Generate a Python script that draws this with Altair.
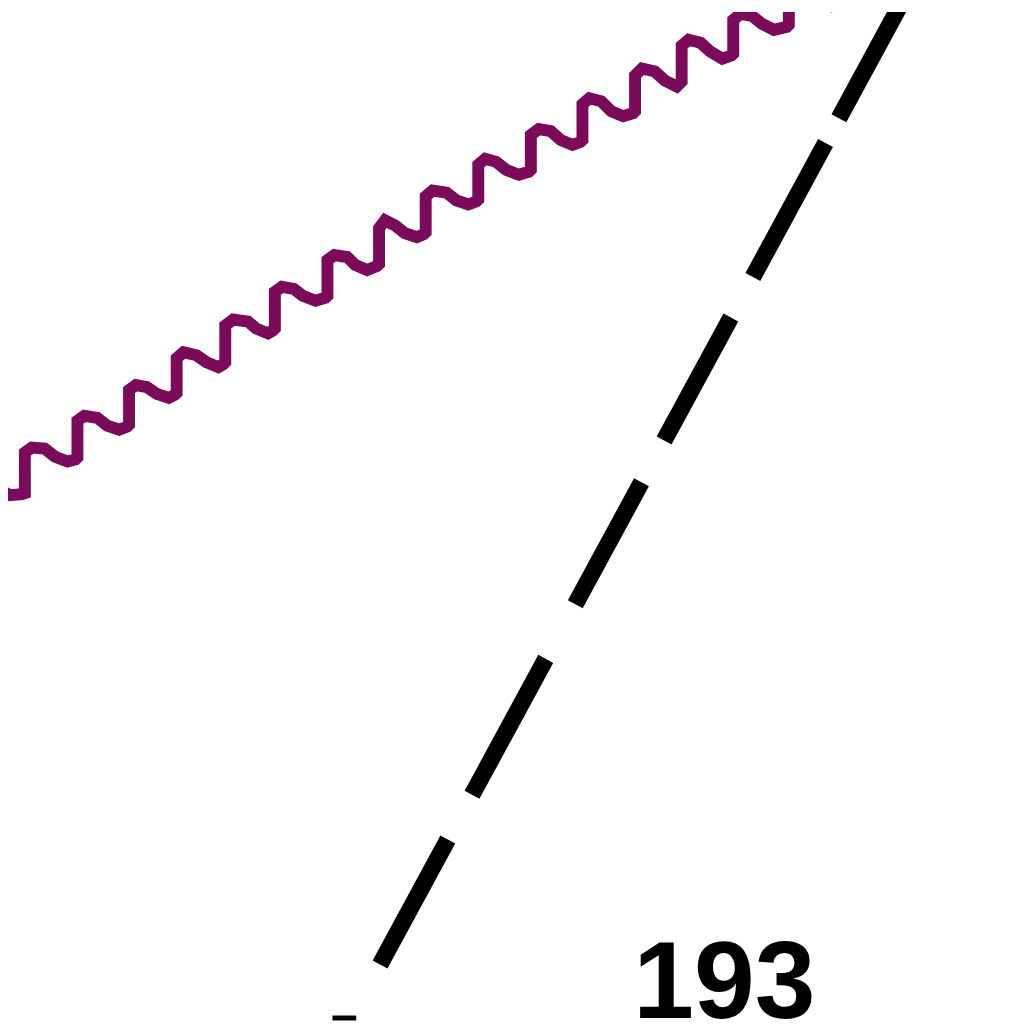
import altair as alt
import pandas as pd

# Wavy purple line (x, y in picture units, y grows downward)
wave_x = [-10, 0, 10, 22,
          25, 25, 32, 45, 55, 68, 76,
          78, 78, 85, 98, 108, 120, 128,
          130, 130, 137, 148, 158, 170, 176,
          178, 178, 185, 198, 208, 220, 225,
          227, 227, 235, 250, 258, 270, 275,
          277, 277, 284, 296, 305, 318, 328,
          330, 330, 337, 350, 358, 370, 380,
          382, 382, 388, 398, 408, 420, 427,
          429, 429, 436, 450, 460, 472, 480,
          482, 482, 489, 500, 510, 523, 533,
          535, 535, 543, 555, 565, 577, 585,
          587, 587, 594, 606, 616, 628, 638,
          640, 640, 647, 660, 670, 682, 685,
          687, 687, 694, 706, 716, 728, 737,
          739, 739, 746, 758, 768, 780, 793,
          795, 795, 802, 815, 825, 838, 846,
          848, 848]
wave_y = [482, 490, 495, 494,
          493, 452, 447, 448, 456, 461, 459,
          457, 420, 415, 417, 425, 429, 426,
          424, 389, 384, 386, 393, 397, 394,
          392, 357, 351, 354, 361, 366, 363,
          361, 324, 318, 320, 327, 332, 329,
          327, 290, 285, 287, 294, 299, 296,
          294, 258, 253, 255, 263, 268, 264,
          262, 226, 218, 223, 231, 235, 232,
          230, 194, 188, 190, 198, 202, 199,
          197, 162, 156, 159, 167, 172, 169,
          167, 132, 126, 128, 137, 142, 139,
          137, 101, 95, 98, 108, 113, 110,
          108, 72, 65, 68, 77, 83, 80,
          78, 42, 36, 39, 48, 55, 52,
          50, 16, 10, 12, 20, 26, 23,
          21, -10, -15, -12, -4, 2, -1,
          -3, -40]

# Black dashes (start and end of each dash)
dash_x1 = [383, 475.7, 579.8, 669.3, 758.8, 845.5]
dash_y1 = [968, 797, 605, 440, 275, 115]
dash_x2 = [451.3, 550, 646.5, 736.6, 832, 918.8]
dash_y2 = [842, 660, 482, 316, 140, -20]

# Small mark at the bottom
tick_x1 = [335]
tick_x2 = [359]
tick_y = [1022]

# Label
label_text = ["193"]
label_x = [730]
label_y = [1022]

wave = pd.DataFrame({"x": wave_x, "y": wave_y, "i": list(range(len(wave_x)))})
dashes = pd.DataFrame({"x": dash_x1, "y": dash_y1, "x2": dash_x2, "y2": dash_y2})
ticks = pd.DataFrame({"x": tick_x1, "x2": tick_x2, "y": tick_y})
labels = pd.DataFrame({"t": label_text, "x": label_x, "y": label_y})

xs = alt.Scale(domain=[8, 1024], nice=False, zero=False)
ys = alt.Scale(domain=[8, 1024], nice=False, zero=False, reverse=True)
noax = None

wave_layer = alt.Chart(wave).mark_line(
    color="#7b0a5a", strokeWidth=12, strokeJoin="miter", strokeCap="butt", clip=True
).encode(
    x=alt.X("x:Q", scale=xs, axis=noax),
    y=alt.Y("y:Q", scale=ys, axis=noax),
    order="i:Q",
)

dash_layer = alt.Chart(dashes).mark_rule(
    color="#000000", strokeWidth=17, strokeCap="butt", clip=True
).encode(
    x=alt.X("x:Q", scale=xs, axis=noax),
    y=alt.Y("y:Q", scale=ys, axis=noax),
    x2="x2:Q",
    y2="y2:Q",
)

tick_layer = alt.Chart(ticks).mark_rule(
    color="#000000", strokeWidth=5, strokeCap="butt"
).encode(
    x=alt.X("x:Q", scale=xs, axis=noax),
    x2="x2:Q",
    y=alt.Y("y:Q", scale=ys, axis=noax),
)

label_layer = alt.Chart(labels).mark_text(
    font="Liberation Sans", fontWeight="bold", fontSize=110,
    align="center", baseline="alphabetic", color="#000000"
).encode(
    x=alt.X("x:Q", scale=xs, axis=noax),
    y=alt.Y("y:Q", scale=ys, axis=noax),
    text="t:N",
)

chart = alt.layer(wave_layer, dash_layer, tick_layer, label_layer).properties(
    width=1016, height=1016, padding=0,
    autosize=alt.AutoSizeParams(type="none"),
    background="#ffffff",
).configure_view(stroke=None)

chart.save("out.html", embed_options={"renderer": "svg", "actions": False})
